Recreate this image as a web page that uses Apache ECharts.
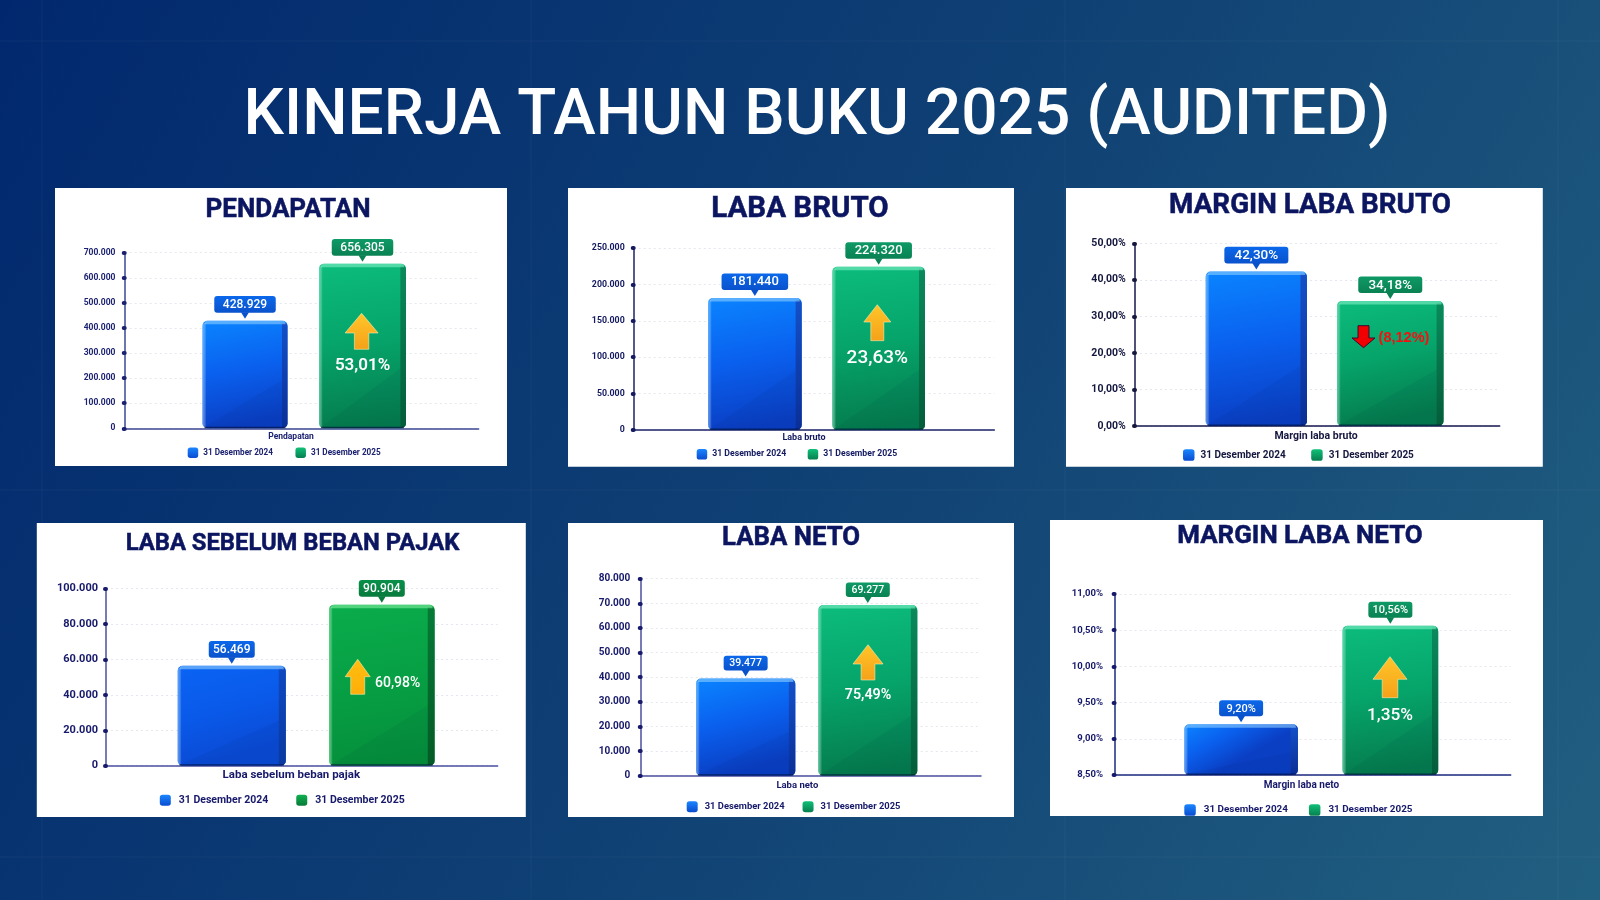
<!DOCTYPE html>
<html>
<head>
<meta charset="utf-8">
<style>html,body{margin:0;padding:0;width:1600px;height:900px;overflow:hidden;background:#0b3a70}#c{width:1600px;height:900px}</style>
<script src="https://cdn.jsdelivr.net/npm/echarts@6/dist/echarts.min.js"></script>
</head>
<body>
<div id="c"></div>
<script>
// ---- data ----
const mainTitle = 'KINERJA TAHUN BUKU 2025 (AUDITED)';
const seriesNames = ['31 Desember 2024', '31 Desember 2025'];
const panelTitles = ['PENDAPATAN', 'LABA BRUTO', 'MARGIN LABA BRUTO', 'LABA SEBELUM BEBAN PAJAK', 'LABA NETO', 'MARGIN LABA NETO'];
const categories = ['Pendapatan', 'Laba bruto', 'Margin laba bruto', 'Laba sebelum beban pajak', 'Laba neto', 'Margin laba neto'];
const values2024 = [428929, 181440, 42.30, 56469, 39477, 9.20];
const values2025 = [656305, 224320, 34.18, 90904, 69277, 10.56];
const changeLabels = ['53,01%', '23,63%', '(8,12%)', '60,98%', '75,49%', '1,35%'];
const isPercent = [false, false, true, false, false, true];
const axisMin = [0, 0, 0, 0, 0, 8.5];
const axisMax = [700000, 250000, 50, 100000, 80000, 11];
const axisStep = [100000, 50000, 10, 20000, 10000, 0.5];

// ---- layout (pixels, not data) ----
const layouts = [
 {panel:[55,188,452,278], titleAt:[288,210.5], titleSize:26, grid:[124.7,252.7,353.9,175.6], bars:[[-99.15,85],[17.35,87]],
  call:{w:61.5,h:16.6,font:12}, tick:8.5, catSize:8.5, lab:115.4, catDx:-10.6, catY:437, leg:{y:452.7,x:187.7,icon:10.5,gap:22.5,size:8.2,pad:0},
  arrow:{cx:361.6,top:313.3,neck:333,bot:349.3,hw:16.5,sw:7.2}, pct:{x:362.6,y:365.7,size:17,weight:600}, ink:'#1c2270', line:'#3d4795'},
 {panel:[568,188,446,278.7], titleAt:[800,209.7], titleSize:29.5, grid:[633.7,248,360.6,182], bars:[[-106,93.7],[18.3,92.7]],
  call:{w:66.6,h:16.4,font:13}, tick:8.8, catSize:9, lab:624.7, catDx:-10, catY:439, leg:{y:454.3,x:696.7,icon:10.5,gap:21.5,size:8.7,pad:0},
  arrow:{cx:877.3,top:304.7,neck:322,bot:340.7,hw:13.5,sw:6.5}, pct:{x:877.3,y:358.7,size:19,weight:500}, ink:'#141a60', line:'#1d2368'},
 {panel:[1066,188,476.8,278.7], titleAt:[1310,206], titleSize:27.8, grid:[1135,243.3,364.7,182.7], bars:[[-111.65,101.3],[19.65,106.5]],
  call:{w:64,h:16.7,font:13.5}, tick:10.5, catSize:10.5, lab:1125.8, catDx:-1.3, catY:436.7, leg:{y:455,x:1183,icon:11.5,gap:25.5,size:10,pad:1},
  arrow:null, pct:{x:1404,y:337.7,size:14.5,weight:700}, ink:'#15173f', line:'#15174f'},
 {panel:[36.8,523,489,294], titleAt:[292.5,543.7], titleSize:23.8, grid:[106,588.7,391.6,177], bars:[[-124.1,108.1],[27.2,105.6]],
  call:{w:46,h:16.7,font:12}, tick:11, catSize:11.5, lab:98, catDx:-10.5, catY:776.3, leg:{y:800.3,x:159.8,icon:11,gap:28,size:10.5,pad:3},
  arrow:{cx:357.7,top:659.3,neck:676.7,bot:694.3,hw:12.5,sw:7}, pct:{x:397.7,y:683,size:14,weight:500}, ink:'#17196a', line:'#4a4f9e'},
 {panel:[568,523,446,294], titleAt:[791,539], titleSize:25.8, grid:[640.7,578.7,340.3,197], bars:[[-114.85,99.3],[7.45,99]],
  call:{w:44,h:14.7,font:10.5}, tick:10, catSize:9.5, lab:630.3, catDx:-13.5, catY:786, leg:{y:806.7,x:686.7,icon:11,gap:18,size:9.4,pad:2},
  arrow:{cx:868,top:644.7,neck:664,bot:680,hw:15,sw:6.9}, pct:{x:868,y:695.3,size:14.3,weight:600}, ink:'#17196a', line:'#4a4f9e'},
 {panel:[1050,520,493,296], titleAt:[1300,536.3], titleSize:25.9, grid:[1114.6,594,396.1,181], bars:[[-128.35,113.6],[29.85,95.7]],
  call:{w:44,h:16,font:11}, tick:9.5, catSize:10, lab:1103, catDx:-11.2, catY:786.3, leg:{y:810,x:1184.3,icon:11.5,gap:21,size:9.9,pad:3},
  arrow:{cx:1390,top:656.7,neck:679.3,bot:697.7,hw:17,sw:7.8}, pct:{x:1390,y:715.3,size:17.3,weight:500}, ink:'#17196a', line:'#1d2a80'}
];
const FONT = 'Roboto';
const LG = (x0,y0,x1,y1,stops) => new echarts.graphic.LinearGradient(x0,y0,x1,y1,stops.map((c,i)=>({offset:i/(stops.length-1),color:c})));
const palettes = {
  blue:  {base:['#0a84ff','#0a60ee','#0a3fc4'], strip:['#1450c8','#0a2f96'], hi:'rgba(140,205,255,0.6)', box:'#0b68ea', boxDeep:'#0a52cc', legend:['#1a86ff','#0a4cd0']},
  blue2: {base:['#0a64f4','#0a5aea','#0a4ad4'], strip:['#0f48c0','#0a3aa0'], hi:'rgba(140,205,255,0.6)', box:'#0b68ea', boxDeep:'#0a52cc', legend:['#1a86ff','#0a4cd0']},
  green: {base:['#0cbc7c','#06a46a','#057c4e'], strip:['#0a8a5c','#045c3a'], hi:'rgba(130,240,200,0.6)', box:'#0e9a66', boxDeep:'#0a8152', legend:['#10c078','#067f50']},
  green2:{base:['#0aac4c','#07a044','#05903c'], strip:['#067a36','#045a26'], hi:'rgba(130,240,160,0.6)', box:'#08904a', boxDeep:'#077a3c', legend:['#10b050','#067a38']}
};
const fmtThousand = v => String(Math.round(v)).replace(/\B(?=(\d{3})+(?!\d))/g,'.');
const fmtPct = v => v.toFixed(2).replace('.',',') + '%';
const fmt = (i,v) => isPercent[i] ? fmtPct(v) : fmtThousand(v);

function barRender(panelIdx, seriesIdx, pal){
  const L = layouts[panelIdx];
  return function(params, api){
    const top = api.coord([api.value(0), api.value(1)]);
    const bottom = api.coord([api.value(0), axisMin[panelIdx]]);
    const x = top[0] + L.bars[seriesIdx][0], w = L.bars[seriesIdx][1];
    const y = top[1], h = bottom[1]-top[1];
    const s = Math.max(4, w*0.065);
    const cx = x + w/2;
    const C = L.call, boxBottom = y-8, boxTop = boxBottom-C.h;
    return {type:'group', children:[
      {type:'rect', shape:{x,y,width:w,height:h,r:5}, style:{fill:LG(0,0,0.25,1,pal.base)}},
      {type:'polygon', shape:{points:[[x+2,y+h-1],[x+w-s,y+h-Math.min(h*0.45,60)],[x+w-s,y+h-1]]}, style:{fill:'rgba(0,10,60,0.05)'}},
      {type:'rect', shape:{x:x+w-s,y:y+2,width:s,height:h-3,r:[0,4,4,0]}, style:{fill:LG(0,0,0,1,pal.strip)}},
      {type:'rect', shape:{x:x+2,y:y,width:w-4,height:3.5,r:[3,3,0,0]}, style:{fill:pal.hi}},
      {type:'rect', shape:{x:x,y:y+2,width:3.5,height:h-3,r:[3,0,0,3]}, style:{fill:LG(0,0,1,0,[pal.hi,'rgba(255,255,255,0.08)'])}},
      {type:'rect', shape:{x:x+2,y:y+h-1.5,width:w-4,height:1.5}, style:{fill:'rgba(0,15,60,0.65)'}},
      {type:'rect', shape:{x:cx-C.w/2,y:boxTop,width:C.w,height:C.h,r:3}, style:{fill:LG(0,0,0,1,[pal.box,pal.boxDeep])}},
      {type:'polygon', shape:{points:[[cx-4,boxBottom-0.5],[cx+4,boxBottom-0.5],[cx,y-2]]}, style:{fill:pal.boxDeep}},
      {type:'text', style:{text:fmt(panelIdx,api.value(1)), x:cx, y:(boxTop+boxBottom)/2+0.5, align:'center', verticalAlign:'middle', fill:'#fff', font:`500 ${C.font}px ${FONT}`}}
    ]};
  };
}

// ---- option pieces ----
const titles = [{text:mainTitle, left:817, top:118, padding:0, textAlign:'center', textVerticalAlign:'middle',
  textStyle:{color:'#fff', fontFamily:FONT, fontWeight:500, fontSize:64}}];
const grids=[], xAxes=[], yAxes=[], series=[], legends=[], elements=[];

elements.push(
  ...[42,531,1065,1558].map(x=>({type:'line',z:-9,shape:{x1:x,y1:0,x2:x,y2:900},style:{stroke:'rgba(255,255,255,0.045)',lineWidth:1}})),
  ...[41,490,857].map(y=>({type:'line',z:-9,shape:{x1:0,y1:y,x2:1600,y2:y},style:{stroke:'rgba(255,255,255,0.045)',lineWidth:1}}))
);

layouts.forEach((L,i)=>{
  const pal24 = i===3 ? palettes.blue2 : palettes.blue, pal25 = i===3 ? palettes.green2 : palettes.green;
  elements.push({type:'rect',z:-5,shape:{x:L.panel[0],y:L.panel[1],width:L.panel[2],height:L.panel[3]},style:{fill:'#ffffff'}});
  titles.push({text:panelTitles[i], left:L.titleAt[0], top:L.titleAt[1], padding:0, textAlign:'center', textVerticalAlign:'middle',
    textStyle:{color:'#0b1560', fontFamily:FONT, fontWeight:700, fontSize:L.titleSize, textBorderColor:'#0b1560', textBorderWidth:0.5}});
  grids.push({left:L.grid[0], top:L.grid[1], width:L.grid[2], height:L.grid[3], containLabel:false});
  const catGap = L.catY - (L.grid[1]+L.grid[3]);
  xAxes.push({type:'category', gridIndex:i, data:[categories[i]],
    axisLine:{show:true,onZero:false,lineStyle:{color:L.line,width:1.5}}, axisTick:{show:false},
    axisLabel:{interval:0, margin:catGap-L.catSize*0.6, color:L.ink, fontFamily:FONT, fontWeight:700, fontSize:L.catSize,
      padding:L.catDx<0?[0,-2*L.catDx,0,0]:[0,0,0,2*L.catDx]}, splitLine:{show:false}});
  yAxes.push({type:'value', gridIndex:i, min:axisMin[i], max:axisMax[i], interval:axisStep[i],
    axisLine:{show:true,lineStyle:{color:L.line,width:1.5}},
    axisTick:{show:true,length:1,lineStyle:{color:L.ink,width:4,cap:'round'}},
    axisLabel:{margin:L.grid[0]-L.lab, color:L.ink, fontFamily:FONT, fontWeight:700, fontSize:L.tick,
      formatter:v=>isPercent[i]?fmtPct(v):fmtThousand(v)},
    splitLine:{show:true,lineStyle:{color:'#e4e7ed',width:1,type:[2,3]}}});
  [[values2024,pal24],[values2025,pal25]].forEach(([vals,pal],s)=>{
    series.push({type:'custom', name:seriesNames[s], xAxisIndex:i, yAxisIndex:i, clip:false, animation:false,
      encode:{x:0,y:1}, data:[[categories[i], vals[i]]], itemStyle:{color:pal.box},
      renderItem:barRender(i,s,pal), tooltip:{show:false}});
  });
  const LE=L.leg;
  legends.push({left:LE.x, top:LE.y-LE.icon/2, orient:'horizontal', itemWidth:LE.icon, itemHeight:LE.icon, itemGap:LE.gap, padding:0,
    icon:'roundRect', selectedMode:false,
    textStyle:{color:L.ink,fontFamily:FONT,fontWeight:700,fontSize:LE.size,padding:[0,0,0,LE.pad]},
    data:[{name:seriesNames[0],itemStyle:{color:LG(0,0,0,1,pal24.legend)}},{name:seriesNames[1],itemStyle:{color:LG(0,0,0,1,pal25.legend)}}]});
  if(L.arrow){
    const A=L.arrow;
    elements.push({type:'polygon',z:100,shape:{points:[[A.cx,A.top],[A.cx+A.hw,A.neck],[A.cx+A.sw,A.neck],[A.cx+A.sw,A.bot],[A.cx-A.sw,A.bot],[A.cx-A.sw,A.neck],[A.cx-A.hw,A.neck]]},
      style:{fill:LG(0,0,0,1,i===3?['#ffbe10','#ffae08']:['#ffc62a','#f5a118']),stroke:'rgba(255,240,190,0.7)',lineWidth:0.8,lineJoin:'round'}});
    elements.push({type:'text',z:100,style:{text:changeLabels[i],x:L.pct.x,y:L.pct.y,align:'center',verticalAlign:'middle',fill:'#fff',font:`${L.pct.weight} ${L.pct.size}px ${FONT}`}});
  } else {
    const cx=1363.5;
    elements.push({type:'polygon',z:100,shape:{points:[[cx-5.5,325.7],[cx+5.5,325.7],[cx+5.5,338],[cx+11.5,338],[cx,347.7],[cx-11.5,338],[cx-5.5,338]]},
      style:{fill:'#f00000',stroke:'#3a0a30',lineWidth:1,lineJoin:'round'}});
    elements.push({type:'text',z:100,style:{text:changeLabels[i],x:L.pct.x,y:L.pct.y,align:'center',verticalAlign:'middle',fill:'#f41010',font:`700 ${L.pct.size}px "Liberation Sans"`}});
  }
});

const chart = echarts.init(document.getElementById('c'), null, {renderer:'canvas', width:1600, height:900});
chart.setOption({
  animation:false,
  backgroundColor: LG(0,0,1,1,['#01286e','#0f4074','#215f80']),
  title:titles, grid:grids, xAxis:xAxes, yAxis:yAxes, legend:legends, series:series,
  graphic:{elements}
});
</script>
</body>
</html>
